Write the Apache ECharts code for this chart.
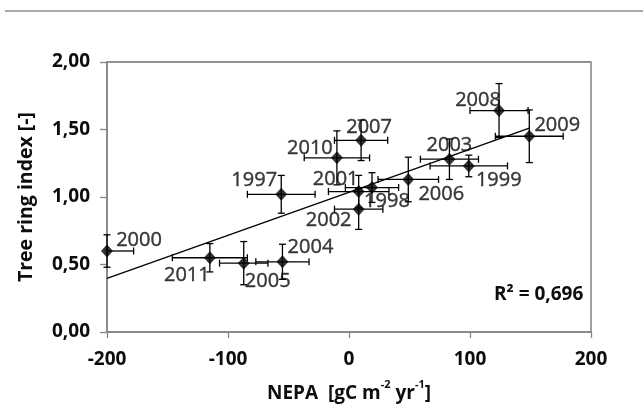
<!DOCTYPE html>
<html>
<head>
<meta charset="utf-8">
<script src="https://cdn.jsdelivr.net/npm/echarts@6/dist/echarts.min.js"></script>
<style>
html,body{margin:0;padding:0;background:#fff;}
#c{width:643px;height:414px;}
</style>
</head>
<body>
<div id="c"></div>
<script>
// ---- data ----
const years    = ['1997','1998','1999','2000','2001','2002','2003','2004','2005','2006','2007','2008','2009','2010','2011'];
const nepa     = [-56, 19, 99, -200, 8, 8, 83, -55, -87, 49, 10, 124, 149, -10, -115];
const ringIdx  = [1.02, 1.07, 1.23, 0.60, 1.04, 0.91, 1.28, 0.52, 0.51, 1.13, 1.42, 1.64, 1.45, 1.29, 0.55];
const nepaErr  = [28, 22, 32, 22, 25, 20, 24, 22, 20, 25, 22, 24, 28, 27, 31];
const ringErr  = [0.14, 0.11, 0.08, 0.12, 0.12, 0.15, 0.15, 0.13, 0.16, 0.165, 0.15, 0.20, 0.195, 0.20, 0.105];
const trendX   = [-200, 149];
const trendY   = [0.397, 1.511];
const xTicks   = [-200, -100, 0, 100, 200];
const yTicks   = [0, 0.5, 1.0, 1.5, 2.0];
const r2Text   = 'R² = 0,696';

// ---- label placement (style, not data) ----
const labelOffsets = {
  '1997':[-27,-14], '1998':[15,14], '1999':[30,14], '2000':[32,-11], '2001':[-23,-12],
  '2002':[-30,11], '2003':[0,-14], '2004':[28,-15], '2005':[24,18], '2006':[33,15],
  '2007':[8,-13], '2008':[-21,-10], '2009':[28,-11], '2010':[-27,-10], '2011':[-23,18]
};

const FONT = 'Open Sans';
const TXT = '#0d0d0d';
const chart = echarts.init(document.getElementById('c'), null, {renderer:'canvas'});

const errData = years.map((y,i)=>[nepa[i], ringIdx[i], nepaErr[i], ringErr[i]]);
const ptData = years.map((y,i)=>({
  name:y, value:[nepa[i], ringIdx[i]],
  label:{offset: labelOffsets[y]}
}));

function renderErr(params, api){
  const x = api.value(0), y = api.value(1), ex = api.value(2), ey = api.value(3);
  const cs = params.coordSys;
  const c = api.coord([x,y]);
  let l = api.coord([x-ex,y])[0], r = api.coord([x+ex,y])[0];
  let t = api.coord([x,y+ey])[1], b = api.coord([x,y-ey])[1];
  const cap = 3.5;
  const st = {stroke:'#000', lineWidth:1.3, fill:null};
  const ch = [];
  const lC = l >= cs.x - 0.5, rC = r <= cs.x + cs.width + 0.5;
  l = Math.max(l, cs.x); r = Math.min(r, cs.x + cs.width);
  const tC = t >= cs.y - 0.5, bC = b <= cs.y + cs.height + 0.5;
  t = Math.max(t, cs.y); b = Math.min(b, cs.y + cs.height);
  ch.push({type:'line', shape:{x1:l,y1:c[1],x2:r,y2:c[1]}, style:st});
  if(lC) ch.push({type:'line', shape:{x1:l,y1:c[1]-cap,x2:l,y2:c[1]+cap}, style:st});
  if(rC) ch.push({type:'line', shape:{x1:r,y1:c[1]-cap,x2:r,y2:c[1]+cap}, style:st});
  ch.push({type:'line', shape:{x1:c[0],y1:t,x2:c[0],y2:b}, style:st});
  if(tC) ch.push({type:'line', shape:{x1:c[0]-cap,y1:t,x2:c[0]+cap,y2:t}, style:st});
  if(bC) ch.push({type:'line', shape:{x1:c[0]-cap,y1:b,x2:c[0]+cap,y2:b}, style:st});
  return {type:'group', children:ch};
}

const option = {
  animation:false,
  backgroundColor:'#fff',
  textStyle:{fontFamily:FONT},
  grid:{left:107, right:52, top:62, bottom:82, show:true, borderColor:'#6e6e6e', borderWidth:1.3, backgroundColor:'transparent'},
  xAxis:{
    type:'value', min:xTicks[0], max:xTicks[xTicks.length-1], interval:100,
    name:'{a|NEPA  [gC m}{s|-2}{a| yr}{s|-1}{a|]}',
    nameLocation:'middle', nameGap:47,
    nameTextStyle:{
      rich:{
        a:{fontFamily:FONT, fontWeight:'bold', fontSize:19, color:TXT, lineHeight:24, verticalAlign:'bottom'},
        s:{fontFamily:FONT, fontWeight:'bold', fontSize:11, color:TXT, lineHeight:24, verticalAlign:'top'}
      }
    },
    axisLine:{show:true, onZero:false, lineStyle:{color:'#868686', width:1.5}},
    axisTick:{show:true, inside:false, length:6, lineStyle:{color:'#868686', width:1.3}},
    axisLabel:{fontFamily:FONT, fontWeight:'bold', fontSize:19, color:TXT, margin:18,
      formatter:v=>String(v)},
    splitLine:{show:false}
  },
  yAxis:{
    type:'value', min:yTicks[0], max:yTicks[yTicks.length-1], interval:0.5,
    name:'Tree ring index [-]', nameLocation:'middle', nameGap:71, nameRotate:90,
    nameTextStyle:{fontFamily:FONT, fontWeight:'bold', fontSize:19.5, color:TXT},
    axisLine:{show:true, onZero:false, lineStyle:{color:'#868686', width:1.5}},
    axisTick:{show:true, inside:false, length:7, lineStyle:{color:'#868686', width:1.3}},
    axisLabel:{fontFamily:FONT, fontWeight:'bold', fontSize:19, color:TXT, margin:17,
      formatter:v=>v.toFixed(2).replace('.', ',')},
    splitLine:{show:false}
  },
  graphic:[
    {type:'line', shape:{x1:5, y1:11, x2:643, y2:11}, style:{stroke:'#a9a9a9', lineWidth:2}},
    {type:'text', left:494, top:285, style:{text:r2Text, fontFamily:FONT, fontWeight:'bold', fontSize:19, fill:TXT}, z:10}
  ],
  series:[
    {type:'custom', renderItem:renderErr, data:errData, z:2, clip:false, silent:true},
    {type:'line', data:trendX.map((x,i)=>[x,trendY[i]]), showSymbol:false, symbol:'none',
      lineStyle:{color:'#000', width:1.3}, z:3, silent:true},
    {type:'scatter', data:ptData, symbol:'diamond', symbolSize:[12,13], clip:false,
      itemStyle:{color:'#000'}, z:4,
      label:{show:true, position:'inside', formatter:'{b}', fontFamily:FONT, fontSize:20, color:TXT,
        textBorderColor:TXT, textBorderWidth:0.4}}
  ]
};
chart.setOption(option);
</script>
</body>
</html>
